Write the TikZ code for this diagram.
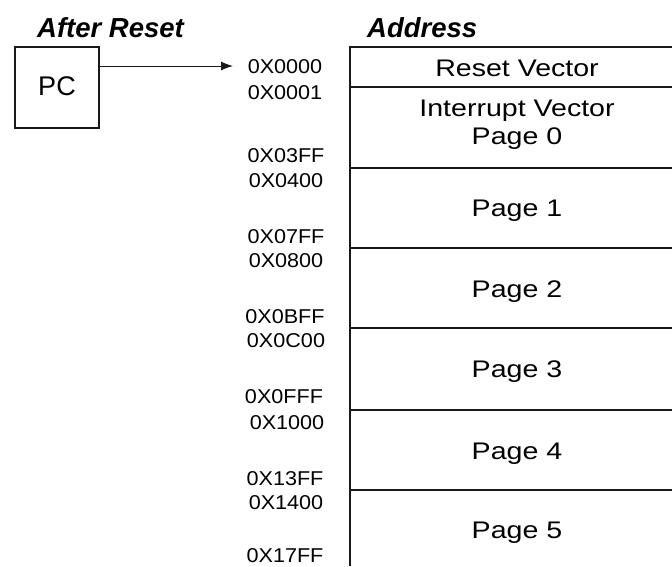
\documentclass[tikz,border=0pt]{standalone}
\usepackage{fontspec}
\usepackage{graphicx}
\setmainfont{Liberation Sans}
\usetikzlibrary{arrows.meta}
\newcommand\addrtxt[1]{\scalebox{1.08}[1]{#1}}
\newcommand\pgtxt[1]{\scalebox{1.19}[1]{#1}}
\begin{document}
\begin{tikzpicture}[x=1pt,y=-1pt,
 addr/.style={anchor=base,inner sep=0pt,font=\fontsize{20}{24}\selectfont},
 pg/.style={anchor=base,inner sep=0pt,font=\fontsize{24}{28}\selectfont},
 ttl/.style={anchor=base west,inner sep=0pt,font=\fontsize{27.5}{32}\selectfont\bfseries\itshape},
 ln/.style={line width=1.2pt,draw=black!90}]
\useasboundingbox (0,0) rectangle (672,566);
% titles
\node[ttl] (t1) at (37,37) {After Reset};
\node[ttl] (t2) at (367,37) {Address};
% PC box
\node[draw=black!90,line width=1.2pt,minimum width=84pt,minimum height=81pt,inner sep=0pt] (pc) at (57,87.5) {};
\node[anchor=base,inner sep=0pt,font=\fontsize{27}{32}\selectfont] (pct) at (57,95) {PC};
\coordinate (tip) at (233,66);
\draw[ln,line width=1pt,-{Latex[length=12pt,width=9pt]}] (pc.east |- tip) -- (tip);
% memory table
\draw[ln] (350,566) -- (350,47) -- (672,47);
\foreach \yy in {87,168,248,328,410,490}{\draw[ln] (350,\yy) -- (672,\yy);}
% addresses
\node[addr] (a1) at (285,73) {\addrtxt{0X0000}};
\node[addr] (a2) at (285,99) {\addrtxt{0X0001}};
\node[addr] (a3) at (286,162) {\addrtxt{0X03FF}};
\node[addr] (a4) at (286,187) {\addrtxt{0X0400}};
\node[addr] (a5) at (286,243) {\addrtxt{0X07FF}};
\node[addr] (a6) at (286,267) {\addrtxt{0X0800}};
\node[addr] (a7) at (285,323) {\addrtxt{0X0BFF}};
\node[addr] (a8) at (286,347) {\addrtxt{0X0C00}};
\node[addr] (a9) at (284,403) {\addrtxt{0X0FFF}};
\node[addr] (a10) at (287,429) {\addrtxt{0X1000}};
\node[addr] (a11) at (285,485) {\addrtxt{0X13FF}};
\node[addr] (a12) at (286,509) {\addrtxt{0X1400}};
\node[addr] (a13) at (285,562.5) {\addrtxt{0X17FF}};
% block labels
\node[pg] (p1) at (517,76.6) {\pgtxt{Reset Vector}};
\node[pg] (p2) at (517,116) {\pgtxt{Interrupt Vector}};
\node[pg] (p3) at (517,144) {\pgtxt{Page 0}};
\node[pg] (p4) at (517,216.6) {\pgtxt{Page 1}};
\node[pg] (p5) at (517,297) {\pgtxt{Page 2}};
\node[pg] (p6) at (517,377.6) {\pgtxt{Page 3}};
\node[pg] (p7) at (517,459.6) {\pgtxt{Page 4}};
\node[pg] (p8) at (517,538.6) {\pgtxt{Page 5}};
\end{tikzpicture}
\end{document}
